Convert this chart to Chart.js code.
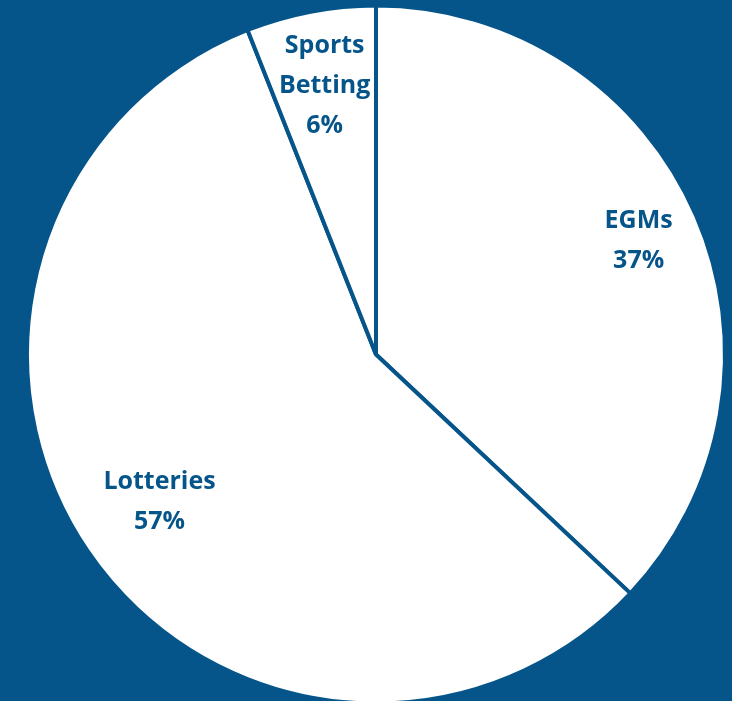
<!DOCTYPE html>
<html>
<head>
<meta charset="utf-8">
<script src="https://cdn.jsdelivr.net/npm/chart.js@4"></script>
<style>
  html, body { margin: 0; padding: 0; background: #05558a; }
  #wrap { width: 732px; height: 701px; }
</style>
</head>
<body>
<div id="wrap"><canvas id="sharePie"></canvas></div>
<script>
var categories = ["EGMs", "Lotteries", "Sports Betting"];
var shares = [37, 57, 6];

var blue = "#05558a";

// how far out along each slice its label sits (fraction of the radius)
var labelRadius = [0.82, 0.75, 0.785];

var sliceLabels = {
    id: 'sliceLabels',
    afterDatasetsDraw: function (chart) {
        var ctx = chart.ctx;
        var arcs = chart.getDatasetMeta(0).data;
        ctx.save();
        ctx.fillStyle = blue;
        ctx.font = "bold 25px 'Open Sans'";
        ctx.textAlign = "center";
        ctx.textBaseline = "middle";
        arcs.forEach(function (arc, i) {
            var p = arc.getProps(['x', 'y', 'startAngle', 'endAngle', 'outerRadius'], true);
            var mid = (p.startAngle + p.endAngle) / 2;
            var r = p.outerRadius * labelRadius[i];
            var cx = p.x + Math.cos(mid) * r;
            var cy = p.y + Math.sin(mid) * r;
            var lines = categories[i].split(" ").concat([shares[i] + "%"]);
            var lh = 40;
            var top = cy - (lines.length - 1) * lh / 2;
            lines.forEach(function (t, j) {
                ctx.fillText(t, cx, top + j * lh);
            });
        });
        ctx.restore();
    }
};

var ctx = document.getElementById("sharePie").getContext('2d');
var chart = new Chart(ctx, {
    type: 'pie',
    data: {
        labels: categories,
        datasets: [{
            data: shares,
            backgroundColor: "#ffffff",
            borderColor: blue,
            borderWidth: 4,
            hoverOffset: 0,
            radius: 349
        }]
    },
    options: {
        responsive: true,
        maintainAspectRatio: false,
        animation: false,
        events: [],
        layout: { padding: { top: 8, bottom: 0, left: 20, right: 0 } },
        plugins: {
            legend: { display: false },
            tooltip: { enabled: false }
        }
    },
    plugins: [sliceLabels]
});
</script>
</body>
</html>
